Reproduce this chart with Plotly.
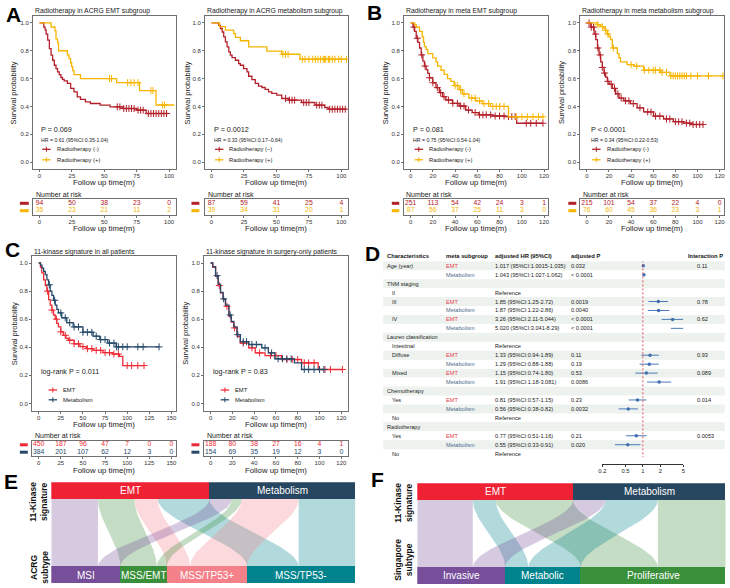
import plotly.graph_objects as go

W, H = 730, 588
FONT = "Liberation Sans, Arial, sans-serif"

# ======================= DATA =======================
# ---- Panel A left: Radiotherapy in ACRG EMT subgroup
A1_neg_t = [3.3, 4.3, 5.1, 6.3, 7.6, 8.9, 10.1, 11.4, 12.7, 13.9, 15.2, 16.5, 17.7, 19.0, 21.5, 24.0, 26.6, 29.1, 31.6, 35.4, 39.2, 46.8, 54.4, 64.5, 74.7, 82.3]
A1_neg_s = [0.97, 0.95, 0.92, 0.876, 0.816, 0.768, 0.732, 0.696, 0.672, 0.648, 0.628, 0.608, 0.595, 0.584, 0.565, 0.529, 0.505, 0.469, 0.45, 0.433, 0.421, 0.409, 0.397, 0.385, 0.373, 0.349]
A1_neg_end = 99
A1_neg_cens = [60, 62, 65, 67, 69, 71, 73, 76, 78, 80, 84, 86, 88, 90, 92, 94, 96, 98]
A1_pos_t = [8.9, 11.9, 12.7, 13.9, 14.7, 21.5, 22.8, 24.0, 24.8, 25.6, 26.6, 31.6, 59.5, 77.2, 89.9]
A1_pos_s = [0.971, 0.943, 0.886, 0.857, 0.8, 0.771, 0.743, 0.714, 0.686, 0.657, 0.629, 0.6, 0.571, 0.514, 0.41]
A1_pos_end = 104
A1_pos_cens = [54, 55.5, 68, 70.5, 73, 76, 86, 87.5, 95, 96.5]
# ---- Panel A right: Radiotherapy in ACRG metabolism subgroup
A2_neg_t = [5.6, 6.9, 8.2, 9.4, 10.7, 12.0, 13.3, 14.5, 15.8, 18.4, 20.9, 22.2, 24.7, 27.3, 28.6, 31.1, 33.7, 36.2, 38.8, 41.3, 43.9, 46.4, 50.3, 54.1, 59.2, 69.4, 79.6, 87.2, 89.8]
A2_neg_s = [0.983, 0.96, 0.935, 0.9, 0.864, 0.828, 0.792, 0.768, 0.751, 0.732, 0.708, 0.696, 0.672, 0.648, 0.617, 0.593, 0.565, 0.546, 0.536, 0.522, 0.505, 0.493, 0.481, 0.457, 0.445, 0.428, 0.409, 0.392, 0.38]
A2_neg_end = 104
A2_neg_cens = [57, 60, 62, 64, 71, 73, 75, 81, 83, 85, 91, 93, 95, 97, 99, 101, 103]
A2_pos_t = [6.1, 10.7, 17.1, 18.4, 22.2, 28.6, 42.6, 54.1, 68.1]
A2_pos_s = [0.974, 0.949, 0.923, 0.897, 0.872, 0.828, 0.797, 0.775, 0.739]
A2_pos_end = 104
A2_pos_cens = [55, 57, 59, 70, 72, 75, 78, 80, 82, 84, 86, 87, 88, 90, 91, 93, 95, 98, 100, 104]
# ---- Panel B left: Radiotherapy in meta EMT subgroup
B1_neg_t = [2.1, 3.6, 5.0, 6.5, 8.0, 9.5, 11.0, 12.4, 13.9, 15.4, 16.9, 19.9, 22.8, 25.8, 28.7, 31.7, 37.6, 43.6, 49.5, 55.4, 61.3, 73.2, 85.0, 95.4]
B1_neg_s = [0.97, 0.94, 0.89, 0.86, 0.82, 0.77, 0.725, 0.69, 0.665, 0.637, 0.606, 0.57, 0.535, 0.499, 0.47, 0.446, 0.422, 0.403, 0.374, 0.356, 0.339, 0.331, 0.327, 0.279]
B1_neg_end = 119
B1_neg_cens = [3, 6, 10, 13, 17, 20, 24, 27, 30, 34, 38, 42, 45, 48, 52, 58, 62, 65, 68, 72, 76, 80, 84, 88, 91, 94, 104, 108, 113, 119]
B1_pos_t = [3.6, 5.0, 8.0, 10.4, 11.6, 12.4, 13.9, 15.4, 19.9, 22.8, 24.3, 27.3, 30.2, 33.2, 36.1, 39.1, 43.6, 46.5, 52.4, 58.4, 64.3, 71.7, 88.0]
B1_pos_s = [0.988, 0.97, 0.94, 0.9, 0.86, 0.83, 0.81, 0.78, 0.749, 0.72, 0.69, 0.66, 0.63, 0.6, 0.58, 0.55, 0.52, 0.49, 0.46, 0.44, 0.42, 0.4, 0.325]
B1_pos_end = 119
B1_pos_cens = [40, 42, 45, 48, 55, 58, 62, 66, 70, 74, 77, 80, 84, 95, 100, 105, 110, 115, 119]
# ---- Panel B right: Radiotherapy in meta metabolism subgroup
B2_neg_t = [3.6, 6.6, 8.1, 9.6, 11.0, 12.5, 14.0, 15.5, 17.0, 18.5, 20.0, 23.0, 26.0, 29.0, 33.4, 39.4, 45.4, 51.3, 60.3, 69.3, 78.2, 87.2, 95.0]
B2_neg_s = [0.97, 0.92, 0.88, 0.82, 0.77, 0.72, 0.68, 0.64, 0.61, 0.58, 0.56, 0.53, 0.49, 0.46, 0.44, 0.42, 0.39, 0.36, 0.33, 0.31, 0.29, 0.28, 0.27]
B2_neg_end = 105
B2_neg_cens = [2, 4, 6, 8, 10, 12, 14, 16, 19, 22, 25, 28, 31, 35, 38, 42, 48, 55, 58, 62, 66, 72, 75, 80, 83, 86, 90, 93, 96, 99, 102, 105]
B2_pos_t = [9.6, 12.5, 15.5, 17.0, 18.5, 20.0, 21.5, 23.0, 27.5, 29.0, 30.4, 36.4, 42.4, 51.3, 66.3, 75.2]
B2_pos_s = [0.987, 0.974, 0.96, 0.947, 0.92, 0.9, 0.88, 0.82, 0.78, 0.75, 0.72, 0.70, 0.69, 0.66, 0.645, 0.62]
B2_pos_end = 123
B2_pos_cens = [10, 14, 17, 19, 24, 40, 45, 52, 56, 60, 62, 66, 68, 72, 76, 78, 80, 82, 84, 86, 88, 90, 94, 100, 110, 123]
# ---- Panel C left: 11-kinase signature in all patients
C1_emt_t = [2.0, 3.5, 5.6, 7.5, 9.3, 11.2, 13.0, 14.9, 16.8, 18.7, 20.5, 22.3, 25.0, 27.9, 30.7, 33.5, 40.0, 46.6, 54.0, 61.5, 72.6, 83.8, 91.2, 95.0]
C1_emt_s = [0.97, 0.93, 0.88, 0.84, 0.80, 0.74, 0.70, 0.665, 0.63, 0.60, 0.57, 0.545, 0.51, 0.485, 0.465, 0.45, 0.425, 0.405, 0.39, 0.378, 0.362, 0.352, 0.336, 0.27]
C1_emt_end = 119
C1_emt_cens = [10, 15, 20, 25, 30, 35, 40, 45, 50, 55, 60, 65, 70, 75, 80, 85, 90, 100, 105, 112, 119]
C1_met_t = [2.0, 3.7, 5.6, 7.5, 9.3, 11.2, 13.0, 14.9, 16.8, 18.7, 20.5, 22.3, 26.0, 31.7, 39.0, 50.0, 61.5, 69.0, 78.0, 87.5]
C1_met_s = [0.985, 0.964, 0.94, 0.917, 0.88, 0.845, 0.80, 0.77, 0.735, 0.70, 0.67, 0.645, 0.61, 0.575, 0.545, 0.507, 0.479, 0.455, 0.43, 0.403]
C1_met_end = 136
C1_met_cens = [12, 18, 25, 30, 35, 40, 45, 50, 55, 60, 65, 70, 75, 80, 85, 88, 90, 95, 100, 112, 118, 136]
# ---- Panel C right: 11-kinase signature in surgery-only patients
C2_emt_t = [2.0, 4.6, 7.0, 9.1, 11.5, 13.7, 16.8, 19.0, 21.3, 24.3, 27.3, 35.0, 41.0, 50.0, 65.0, 83.5, 98.8]
C2_emt_s = [0.97, 0.905, 0.84, 0.787, 0.74, 0.692, 0.62, 0.58, 0.538, 0.478, 0.43, 0.396, 0.36, 0.341, 0.313, 0.289, 0.242]
C2_emt_end = 121
C2_emt_cens = [8, 15, 22, 30, 38, 45, 55, 60, 70, 75, 80, 86, 90, 95, 105, 110, 121]
C2_met_t = [2.0, 4.6, 7.0, 9.1, 11.5, 13.7, 16.8, 19.0, 21.3, 24.3, 27.3, 35.0, 47.0, 53.0, 59.0, 77.0, 83.5]
C2_met_s = [0.975, 0.91, 0.85, 0.79, 0.745, 0.70, 0.63, 0.585, 0.545, 0.49, 0.44, 0.42, 0.396, 0.36, 0.318, 0.289, 0.242]
C2_met_end = 104
C2_met_cens = [6, 12, 18, 25, 30, 33, 38, 42, 50, 56, 62, 66, 70, 74, 86, 90, 95, 100, 104]

# ---- Number-at-risk tables
A_risk_t = [0, 25, 50, 75, 100]
A1_risk_neg = [94, 50, 38, 23, 0]
A1_risk_pos = [35, 23, 21, 11, 2]
A2_risk_neg = [87, 59, 41, 25, 4]
A2_risk_pos = [39, 34, 31, 20, 1]
B_risk_t = [0, 20, 40, 60, 80, 100, 120]
B1_risk_neg = [251, 113, 54, 42, 24, 3, 1]
B1_risk_pos = [87, 56, 37, 25, 11, 3, 0]
B2_risk_neg = [215, 101, 54, 37, 22, 4, 0]
B2_risk_pos = [76, 60, 45, 36, 23, 3, 1]
C1_risk_t = [0, 25, 50, 75, 100, 125, 150]
C1_risk_emt = [450, 187, 96, 47, 7, 0, 0]
C1_risk_met = [384, 201, 107, 62, 12, 3, 0]
C2_risk_t = [0, 20, 40, 60, 80, 100, 120]
C2_risk_emt = [188, 80, 38, 27, 16, 4, 1]
C2_risk_met = [154, 69, 35, 19, 12, 3, 0]

# ---- Panel D forest plot
D_char = ["Age (year)", "", "TNM staging", "II", "III", "", "IV", "", "Lauren classification", "Intestinal",
          "Diffuse", "", "Mixed", "", "Chemotherapy", "Yes", "", "No", "Radiotherapy", "Yes", "", "No"]
D_section = [1, 0, 1, 0, 0, 0, 0, 0, 1, 0, 0, 0, 0, 0, 1, 0, 0, 0, 1, 0, 0, 0]
D_group = ["EMT", "Metabolism", "", "", "EMT", "Metabolism", "EMT", "Metabolism", "", "",
           "EMT", "Metabolism", "EMT", "Metabolism", "", "EMT", "Metabolism", "", "", "EMT", "Metabolism", ""]
D_hr_text = ["1.017 (95%CI:1.0015-1.035)", "1.043 (95%CI:1.027-1.062)", "", "Reference",
             "1.85 (95%CI:1.25-2.72)", "1.87 (95%CI:1.22-2.86)", "3.26 (95%CI:2.11-5.044)", "5.020 (95%CI:3.041-8.29)",
             "", "Reference", "1.33 (95%CI:0.94-1.89)", "1.29 (95%CI:0.88-1.88)", "1.15 (95%CI:0.74-1.80)",
             "1.91 (95%CI:1.18-3.081)", "", "0.81 (95%CI:0.57-1.15)", "0.56 (95%CI:0.38-0.82)", "Reference",
             "", "0.77 (95%CI:0.51-1.16)", "0.55 (95%CI:0.33-0.91)", "Reference"]
D_p = ["0.032", "< 0.0001", "", "", "0.0019", "0.0040", "< 0.0001", "< 0.0001", "", "", "0.11", "0.19",
       "0.53", "0.0086", "", "0.23", "0.0032", "", "", "0.21", "0.020", ""]
D_int = ["0.11", "", "", "", "0.78", "", "0.62", "", "", "", "0.93", "", "0.089", "", "", "0.014", "", "", "", "0.0053", "", ""]
D_hr = [1.017, 1.043, None, None, 1.85, 1.87, 3.26, 5.02, None, None, 1.33, 1.29, 1.15, 1.91, None, 0.81, 0.56, None, None, 0.77, 0.55, None]
D_lo = [1.0015, 1.027, None, None, 1.25, 1.22, 2.11, 3.041, None, None, 0.94, 0.88, 0.74, 1.18, None, 0.57, 0.38, None, None, 0.51, 0.33, None]
D_hi = [1.035, 1.062, None, None, 2.72, 2.86, 5.044, 8.29, None, None, 1.89, 1.88, 1.80, 3.081, None, 1.15, 0.82, None, None, 1.16, 0.91, None]
D_ticks = [0.2, 0.5, 1, 2, 5]

# ---- Panels E / F alluvial
E_top = ["EMT", "Metabolism"]
E_bottom = ["MSI", "MSS/EMT", "MSS/TP53+", "MSS/TP53-"]
E_flow = [[46, 36, 23, 51], [22, 10, 56, 56]]
F_top = ["EMT", "Metabolism"]
F_bottom = ["Invasive", "Metabolic", "Proliferative"]
F_flow = [[36, 15, 50], [21, 34, 44]]

# ======================= STYLE =======================
RED_DK = "#b3202a"
YEL = "#f7b500"
RED = "#ee2a35"
NAVY = "#26496a"
BOXC = "#707070"
TOP_COL = ["#ee2233", "#27465f"]
E_COL = [(118, 78, 154), (58, 143, 58), (244, 128, 138), (0, 131, 141)]
F_COL = [(118, 78, 154), (0, 131, 141), (58, 143, 58)]

fig = go.Figure()
layout = {}
shapes = []
annotations = []


def sfx(k):
    return "" if k == 1 else str(k)


def PX(x):
    return x / W


def PY(y):
    return 1 - y / H


def ann(x, y, text, size=7, color="#222", xanchor="left", yanchor="middle", textangle=0, bold=False):
    if bold:
        text = "<b>" + text + "</b>"
    annotations.append(dict(x=PX(x), y=PY(y), xref="paper", yref="paper", text=text, showarrow=False,
                            xanchor=xanchor, yanchor=yanchor, textangle=textangle,
                            font=dict(size=size, color=color, family=FONT)))


def surv_at(ts, ss, t):
    s = 1.0
    for ti, si in zip(ts, ss):
        if ti <= t:
            s = si
        else:
            break
    return s


def add_km(k, ts, ss, end, cens, color):
    xs = [0] + ts + [end]
    ys = [1] + ss + [ss[-1]]
    fig.add_trace(go.Scatter(x=xs, y=ys, mode="lines", line=dict(color=color, width=1.3, shape="hv"),
                             xaxis="x" + sfx(k), yaxis="y" + sfx(k), hoverinfo="skip", showlegend=False))
    cy = [surv_at(ts, ss, c) for c in cens]
    fig.add_trace(go.Scatter(x=cens, y=cy, mode="markers",
                             marker=dict(symbol="cross-thin-open", size=5, color=color, line=dict(width=1, color=color)),
                             xaxis="x" + sfx(k), yaxis="y" + sfx(k), hoverinfo="skip", showlegend=False))


XAX = dict(showline=True, mirror=True, linecolor=BOXC, linewidth=1, ticks="outside", ticklen=2, tickcolor=BOXC,
           tickfont=dict(size=6, color="#333", family=FONT), showgrid=False, zeroline=False, ticklabelstandoff=-1)


def km_axes(k, box, xr, xt):
    x0, x1, y0, y1 = box
    layout["xaxis" + sfx(k)] = dict(domain=[PX(x0), PX(x1)], range=xr, tickvals=xt, anchor="y" + sfx(k), **XAX)
    layout["yaxis" + sfx(k)] = dict(domain=[PY(y1), PY(y0)], range=[-0.05, 1.05],
                                    tickvals=[0, 0.2, 0.4, 0.6, 0.8, 1.0],
                                    ticktext=["0.0", "0.2", "0.4", "0.6", "0.8", "1.0"], anchor="x" + sfx(k),
                                    showline=True, mirror=True, linecolor=BOXC, linewidth=1, ticks="outside",
                                    ticklen=2, tickcolor=BOXC, tickfont=dict(size=6, color="#333", family=FONT),
                                    showgrid=False, zeroline=False)


def risk_axes(k, box, xr, xt):
    x0, x1, y0, y1 = box
    layout["xaxis" + sfx(k)] = dict(domain=[PX(x0), PX(x1)], range=xr, tickvals=xt, anchor="y" + sfx(k), **XAX)
    layout["yaxis" + sfx(k)] = dict(domain=[PY(y1), PY(y0)], range=[0, 2], anchor="x" + sfx(k),
                                    showline=True, mirror=True, linecolor=BOXC, linewidth=1, ticks="",
                                    showticklabels=False, showgrid=False, zeroline=False)


def add_risk(k, ts, vals, row, color):
    fig.add_trace(go.Scatter(x=ts, y=[row] * len(ts), mode="text", text=[str(v) for v in vals],
                             textfont=dict(size=6.8, color=color, family=FONT), textposition="middle center",
                             xaxis="x" + sfx(k), yaxis="y" + sfx(k), hoverinfo="skip", showlegend=False))


def legend_item(x0, x1, y, color, text, tx, size=5.8):
    shapes.append(dict(type="line", xref="paper", yref="paper", x0=PX(x0), x1=PX(x1), y0=PY(y), y1=PY(y),
                       line=dict(color=color, width=1.3)))
    xm = (x0 + x1) / 2
    shapes.append(dict(type="line", xref="paper", yref="paper", x0=PX(xm), x1=PX(xm), y0=PY(y - 2.5),
                       y1=PY(y + 2.5), line=dict(color=color, width=1)))
    ann(tx, y, text, size=size, color="#222")


# ---------- KM panels ----------
KM = [
    dict(k=1, box=(29.3, 173, 16, 169), xr=[-5, 105], xt=A_risk_t, title="Radiotherapy in ACRG EMT subgroup",
         ylx=10, curves=[(A1_neg_t, A1_neg_s, A1_neg_end, A1_neg_cens, RED_DK), (A1_pos_t, A1_pos_s, A1_pos_end, A1_pos_cens, YEL)],
         risk=[(A1_risk_neg, RED_DK), (A1_risk_pos, YEL)], sw=(16, 25)),
    dict(k=2, box=(202.7, 346.7, 16, 169), xr=[-5, 105], xt=A_risk_t, title="Radiotherapy in ACRG metabolism subgroup",
         ylx=185.5, curves=[(A2_neg_t, A2_neg_s, A2_neg_end, A2_neg_cens, RED_DK), (A2_pos_t, A2_pos_s, A2_pos_end, A2_pos_cens, YEL)],
         risk=[(A2_risk_neg, RED_DK), (A2_risk_pos, YEL)], sw=(189, 197)),
    dict(k=3, box=(403.3, 549, 16, 169), xr=[-6, 124], xt=B_risk_t, title="Radiotherapy in meta EMT subgroup",
         ylx=385, curves=[(B1_neg_t, B1_neg_s, B1_neg_end, B1_neg_cens, RED_DK), (B1_pos_t, B1_pos_s, B1_pos_end, B1_pos_cens, YEL)],
         risk=[(B1_risk_neg, RED_DK), (B1_risk_pos, YEL)], sw=(391, 398.5)),
    dict(k=4, box=(581, 726, 16, 169), xr=[-6, 124], xt=B_risk_t, title="Radiotherapy in meta metabolism subgroup",
         ylx=562, curves=[(B2_neg_t, B2_neg_s, B2_neg_end, B2_neg_cens, RED_DK), (B2_pos_t, B2_pos_s, B2_pos_end, B2_pos_cens, YEL)],
         risk=[(B2_risk_neg, RED_DK), (B2_risk_pos, YEL)], sw=(569, 577)),
    dict(k=5, box=(28.3, 173.3, 256, 410.5), xr=[-7.5, 155], xt=C1_risk_t, title="11-kinase signature in all patients",
         ylx=10, curves=[(C1_emt_t, C1_emt_s, C1_emt_end, C1_emt_cens, RED), (C1_met_t, C1_met_s, C1_met_end, C1_met_cens, NAVY)],
         risk=[(C1_risk_emt, RED), (C1_risk_met, NAVY)], sw=(16, 24)),
    dict(k=6, box=(201.7, 346.7, 256, 410.5), xr=[-6, 126], xt=C2_risk_t, title="11-kinase signature in surgery-only patients",
         ylx=183, curves=[(C2_emt_t, C2_emt_s, C2_emt_end, C2_emt_cens, RED), (C2_met_t, C2_met_s, C2_met_end, C2_met_cens, NAVY)],
         risk=[(C2_risk_emt, RED), (C2_risk_met, NAVY)], sw=(189, 197)),
]

for p in KM:
    k = p["k"]
    x0, x1, y0, y1 = p["box"]
    km_axes(k, p["box"], p["xr"], p["xt"])
    for (ts, ss, end, cens, col) in p["curves"]:
        add_km(k, ts, ss, end, cens, col)
    ann(x0, y0 - 4.5, p["title"], size=6.8, color="#222", yanchor="middle")
    ann(p["ylx"], (y0 + y1) / 2, "Survival probability", size=7.5, color="#222", xanchor="center", textangle=-90)
    ann((x0 + x1) / 2, y1 + 13.8, "Follow up time(m)", size=7.8, color="#222", xanchor="center")
    # risk table
    rk = k + 6
    rt0 = y1 + 30
    rbox = (x0, x1, rt0, rt0 + 15.5)
    risk_axes(rk, rbox, p["xr"], p["xt"])
    for (vals, col), row in zip(p["risk"], [1.5, 0.5]):
        add_risk(rk, p["xt"], vals, row, col)
    ann(x0 + 0.5, rt0 - 5, "Number at risk", size=7, color="#222")
    ann((x0 + x1) / 2, rt0 + 29.5, "Follow up time(m)", size=7.8, color="#222", xanchor="center")
    for (vals, col), yy in zip(p["risk"], [rt0 + 4.3, rt0 + 11.7]):
        shapes.append(dict(type="line", xref="paper", yref="paper", x0=PX(p["sw"][0]), x1=PX(p["sw"][1]),
                           y0=PY(yy), y1=PY(yy), line=dict(color=col, width=3)))

# in-plot texts: A / B
kmtext = [
    (35, "P = 0.069", "HR = 0.61 (95%CI:0.35-1.04)", "Radiotherapy (-)", "Radiotherapy (+)"),
    (209.3, "P = 0.0012", "HR = 0.33 (95%CI:0.17–0.64)", "Radiotherapy (–)", "Radiotherapy (+)"),
    (410.5, "P = 0.081", "HR = 0.75 (95%CI:0.54-1.04)", "Radiotherapy (-)", "Radiotherapy (+)"),
    (589.5, "P < 0.0001", "HR = 0.34 (95%CI:0.22-0.53)", "Radiotherapy (-)", "Radiotherapy (+)"),
]
for (xl, ptxt, hrtxt, l1, l2) in kmtext:
    ann(xl, 129.5, ptxt, size=7.2)
    ann(xl, 139.5, hrtxt, size=5.2)
    legend_item(xl + 3.5, xl + 12, 149.3, RED_DK, l1, xl + 16)
    legend_item(xl + 3.5, xl + 12, 159.8, YEL, l2, xl + 16)
for (xl, ptxt) in [(35.5, "log-rank P = 0.011"), (209, "log-rank P = 0.83")]:
    ann(xl, 371.7, ptxt, size=7.2)
    legend_item(xl + 9.5, xl + 18, 390, RED, "EMT", xl + 22)
    legend_item(xl + 9.5, xl + 18, 399.8, NAVY, "Metabolism", xl + 22)

# ---------- Panel D forest ----------
row_top, row_h = 265.7, 8.95
nrows = len(D_char)
dom_top = row_top - row_h / 2
dom_bot = row_top + (nrows - 0.5) * row_h
layout["xaxis13"] = dict(domain=[PX(603.3), PX(685)], type="log", range=[-0.69897, 0.69897], tickvals=D_ticks,
                         ticktext=[str(v) for v in D_ticks], anchor="free", position=PY(464),
                         showline=True, linecolor="#333", linewidth=0.8, ticks="outside", ticklen=2,
                         tickcolor="#333", tickfont=dict(size=5.8, color="#222", family=FONT),
                         showgrid=False, zeroline=False, ticklabelstandoff=-1)
layout["yaxis13"] = dict(domain=[PY(dom_bot), PY(dom_top)], range=[nrows + 0.5, 0.5], anchor="x13",
                         visible=False, showgrid=False, zeroline=False)
rows = list(range(1, nrows + 1))
for r in rows:
    if r % 2 == 1:
        shapes.append(dict(type="rect", xref="paper", yref="y13", x0=PX(382.3), x1=PX(726.7), y0=r - 0.5,
                           y1=r + 0.5, fillcolor="#edf2ee", line=dict(width=0), layer="below"))
shapes.append(dict(type="line", xref="x13", yref="y13", x0=1, x1=1, y0=0.4, y1=nrows + 0.4,
                   line=dict(color="#e8414b", width=0.9, dash="2px,2px")))
# headers
hdr_y = row_top - row_h - 0.5
for (xx, t) in [(384.5, "Characteristics"), (444, "meta subgroup"), (493.3, "adjusted HR (95%CI)"),
                (570, "adjusted P"), (687.5, "Interaction P")]:
    ann(xx, hdr_y, t, size=5.8, bold=True, color="#111")
for i, r in enumerate(rows):
    y = row_top + i * row_h
    if D_char[i]:
        ann(384.5 if D_section[i] else 389.5, y, D_char[i], size=5.6)
    if D_group[i]:
        ann(444, y, D_group[i], size=5.6, color="#e8414b" if D_group[i] == "EMT" else "#4a6b8c")
    if D_hr_text[i]:
        ann(493.3, y, D_hr_text[i], size=5.6)
    if D_p[i]:
        ann(570, y, D_p[i], size=5.6)
    if D_int[i]:
        ann(697, y, D_int[i], size=5.6)
# CI lines and points
ci_x, ci_y, pt_x, pt_y, ar_x, ar_y = [], [], [], [], [], []
for r, hr, lo, hi in zip(rows, D_hr, D_lo, D_hi):
    if hr is None:
        continue
    ci_x += [max(lo, 0.2), min(hi, 5), None]
    ci_y += [r, r, None]
    pt_x.append(hr)
    pt_y.append(r)
    if hi > 5:
        ar_x.append(5)
        ar_y.append(r)
fig.add_trace(go.Scatter(x=ci_x, y=ci_y, mode="lines", line=dict(color="#4a7ab8", width=1),
                         xaxis="x13", yaxis="y13", hoverinfo="skip", showlegend=False))
fig.add_trace(go.Scatter(x=pt_x, y=pt_y, mode="markers", marker=dict(color="#3f6faf", size=3.5),
                         xaxis="x13", yaxis="y13", hoverinfo="skip", showlegend=False))
fig.add_trace(go.Scatter(x=ar_x, y=ar_y, mode="markers", marker=dict(color="#4a7ab8", size=4, symbol="triangle-right"),
                         xaxis="x13", yaxis="y13", hoverinfo="skip", showlegend=False, cliponaxis=False))


# ---------- Panels E / F alluvial ----------
def alluvial(k, box, top_names, bot_names, flow, bot_cols):
    x0, x1, y0, y1 = box
    total = sum(sum(r) for r in flow)
    xa, ya = "x" + sfx(k), "y" + sfx(k)
    layout["xaxis" + sfx(k)] = dict(domain=[PX(x0), PX(x1)], range=[0, total], visible=False, anchor=ya)
    layout["yaxis" + sfx(k)] = dict(domain=[PY(y1), PY(y0)], range=[0, 1], visible=False, anchor=xa)
    hb = 16.6 / (y1 - y0)
    ytop, ybot = 1 - hb, hb
    ntop, nbot = len(top_names), len(bot_names)
    top_tot = [sum(flow[i]) for i in range(ntop)]
    bot_tot = [sum(flow[i][j] for i in range(ntop)) for j in range(nbot)]
    top_start = [sum(top_tot[:i]) for i in range(ntop)]
    bot_start = [sum(bot_tot[:j]) for j in range(nbot)]
    for i in range(ntop):
        a = top_start[i]
        for j in range(nbot):
            v = flow[i][j]
            a0, a1 = a, a + v
            a = a1
            b0 = bot_start[j] + sum(flow[ii][j] for ii in range(i))
            b1 = b0 + v
            xs, ys = [], []
            n = 40
            for s in range(n + 1):
                u = s / n
                f = 3 * u * u - 2 * u ** 3
                xs.append(a0 + (b0 - a0) * f)
                ys.append(ytop - (ytop - ybot) * u)
            for s in range(n + 1):
                u = s / n
                f = 3 * u * u - 2 * u ** 3
                xs.append(b1 + (a1 - b1) * f)
                ys.append(ybot + (ytop - ybot) * u)
            c = bot_cols[j]
            fig.add_trace(go.Scatter(x=xs, y=ys, mode="lines", fill="toself", line=dict(width=0),
                                     fillcolor="rgba(%d,%d,%d,0.3)" % c, xaxis=xa, yaxis=ya,
                                     hoverinfo="skip", showlegend=False))
    for i in range(ntop):
        fig.add_trace(go.Bar(x=[top_tot[i]], base=[top_start[i]], y=[1 - hb / 2], width=hb, orientation="h",
                             marker=dict(color=TOP_COL[i], line=dict(width=0)),
                             xaxis=xa, yaxis=ya, hoverinfo="skip", showlegend=False))
        annotations.append(dict(x=top_start[i] + top_tot[i] / 2, y=1 - hb / 2, xref=xa, yref=ya, text=top_names[i],
                                showarrow=False, font=dict(color="white", size=10, family=FONT)))
    for j in range(nbot):
        fig.add_trace(go.Bar(x=[bot_tot[j]], base=[bot_start[j]], y=[hb / 2], width=hb, orientation="h",
                             marker=dict(color="rgb(%d,%d,%d)" % bot_cols[j], line=dict(width=0)),
                             xaxis=xa, yaxis=ya, hoverinfo="skip", showlegend=False))
        annotations.append(dict(x=bot_start[j] + bot_tot[j] / 2, y=hb / 2, xref=xa, yref=ya, text=bot_names[j],
                                showarrow=False, font=dict(color="white", size=10, family=FONT)))


alluvial(14, (47.7, 354.3, 482.3, 583.3), E_top, E_bottom, E_flow, E_COL)
alluvial(15, (416.7, 727.7, 483.3, 584), F_top, F_bottom, F_flow, F_COL)
ann(35, 502, "11-Kinase<br>signature", size=8.5, bold=True, xanchor="center", textangle=-90, color="#111")
ann(35, 567, "ACRG<br>subtype", size=8.5, bold=True, xanchor="center", textangle=-90, color="#111")
ann(402, 503, "11-Kinase<br>signature", size=8.5, bold=True, xanchor="center", textangle=-90, color="#111")
ann(402, 560, "Singapore<br>subtype", size=8.5, bold=True, xanchor="center", textangle=-90, color="#111")

# panel letters
for (x, y, L) in [(10, 14, "A"), (374, 12, "B"), (8.5, 249, "C"), (371.5, 253, "D"), (7, 481, "E"), (377, 479, "F")]:
    ann(x, y, L, size=21, bold=True, xanchor="center", color="#000")

fig.update_layout(width=W, height=H, margin=dict(l=0, r=0, t=0, b=0), paper_bgcolor="white",
                  plot_bgcolor="white", showlegend=False, barmode="overlay", bargap=0,
                  font=dict(family=FONT), shapes=shapes, annotations=annotations, **layout)
fig.write_html("out.html")
